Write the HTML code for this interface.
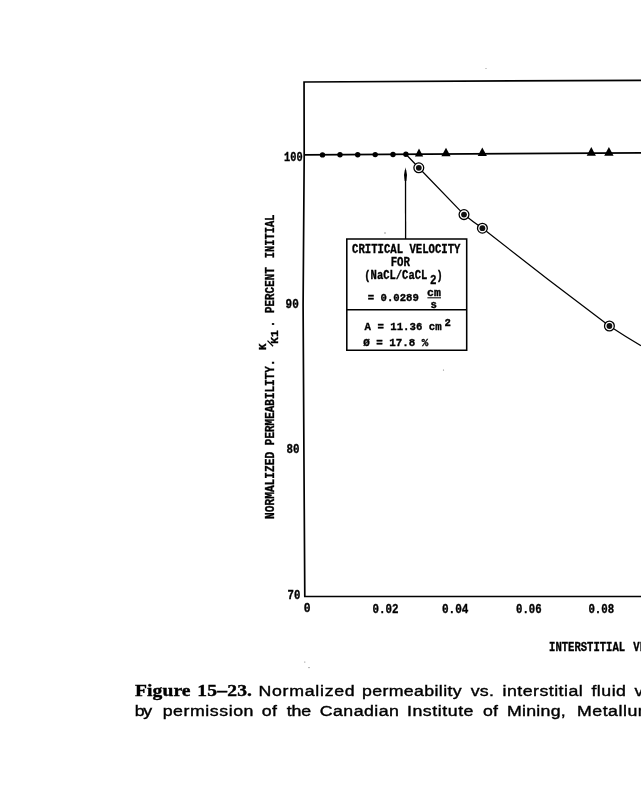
<!DOCTYPE html>
<html>
<head>
<meta charset="utf-8">
<title>Figure 15-23</title>
<style>
html,body{margin:0;padding:0;background:#fff;}
body{width:641px;height:800px;overflow:hidden;position:relative;}
svg{position:absolute;left:0;top:0;display:block;transform:translateZ(0);}
.m{font-family:"Liberation Mono",monospace;font-weight:bold;font-size:12.3px;fill:#000;stroke:#000;stroke-width:0.35px;}
.cs{font-family:"Liberation Sans",sans-serif;font-size:14.8px;}
.cb{font-family:"Liberation Serif",serif;font-weight:bold;font-size:16.3px;}
</style>
</head>
<body>
<svg width="641" height="800" viewBox="0 0 641 800">
  <g fill="none" stroke="#000" stroke-width="1.55">
    <!-- frame -->
    <path d="M304.8 596.4 L303.9 450 L303.1 305 L304.2 155 L304.05 82 L641 80.3" stroke-width="1.7"/>
    <path d="M304 596.4 L641 596.4"/>
    <!-- 100% line -->
    <path d="M304.2 154.9 L641 152.9" stroke-width="1.7"/>
    <!-- curve -->
    <path stroke-width="1.25" d="M405.9 154.3 L418.8 167.8 L464 214.6 Q473 222 482.5 228.3 L547.8 279.3 L609.4 326 Q626 337 641 345.6"/>
    <!-- arrow -->
    <path d="M405.6 239 L405.5 170" stroke-width="1.3"/>
    <!-- box -->
    <path d="M346.8 239 H466.7 V350.3 H346.8 Z"/>
    <path d="M346.8 309.7 H466.5"/>
  </g>
  <!-- arrow head -->
  <path d="M405.5 167.3 L407 175 L406.3 181 L404.7 181 L404 175 Z" fill="#000"/>
  <!-- dots -->
  <g fill="#000">
    <circle cx="322.5" cy="154.9" r="2.7"/>
    <circle cx="340" cy="154.8" r="2.7"/>
    <circle cx="357.7" cy="154.7" r="2.7"/>
    <circle cx="375.2" cy="154.6" r="2.7"/>
    <circle cx="393" cy="154.5" r="2.7"/>
    <circle cx="405.9" cy="154.3" r="2.7"/>
  </g>
  <!-- triangles -->
  <g fill="#000">
    <path d="M419 148.4 L423.2 156.5 L414.9 156.5 Z"/>
    <path d="M446 147.8 L450.6 156.2 L441.4 156.2 Z"/>
    <path d="M482.3 147.6 L486.9 156 L477.7 156 Z"/>
    <path d="M591.3 147 L595.9 155.8 L586.7 155.8 Z"/>
    <path d="M608.9 147 L613.6 155.8 L604.2 155.8 Z"/>
  </g>
  <!-- circled dots -->
  <g fill="#fff" stroke="#000" stroke-width="1.3">
    <circle cx="418.8" cy="167.8" r="4.9"/>
    <circle cx="464" cy="214.6" r="4.9"/>
    <circle cx="482.4" cy="228.2" r="4.9"/>
    <circle cx="609.4" cy="326" r="4.9"/>
  </g>
  <g fill="#111">
    <circle cx="418.8" cy="167.8" r="2.9"/>
    <circle cx="464" cy="214.6" r="2.9"/>
    <circle cx="482.4" cy="228.2" r="2.9"/>
    <circle cx="609.4" cy="326" r="2.9"/>
  </g>
  <!-- scan specks -->
  <g fill="#777">
    <circle cx="304.8" cy="662" r="0.6"/>
    <circle cx="309" cy="667.6" r="0.7"/>
    <circle cx="385" cy="233" r="0.7"/>
    <circle cx="443.5" cy="370" r="0.6"/>
    <circle cx="486" cy="68.5" r="0.5"/>
  </g>
  <!-- y tick labels -->
  <g class="m">
    <text x="284" y="160.7" textLength="18.6" lengthAdjust="spacingAndGlyphs">100</text>
    <text x="285.6" y="308" textLength="13.2" lengthAdjust="spacingAndGlyphs">90</text>
    <text x="286.6" y="453.2" textLength="13" lengthAdjust="spacingAndGlyphs">80</text>
    <text x="287.6" y="598.9" textLength="12.8" lengthAdjust="spacingAndGlyphs">70</text>
  </g>
  <!-- x tick labels -->
  <g class="m">
    <text x="303.8" y="612" textLength="6.8" lengthAdjust="spacingAndGlyphs">0</text>
    <text x="372.6" y="613" textLength="26" lengthAdjust="spacingAndGlyphs">0.02</text>
    <text x="441.9" y="613" textLength="26.5" lengthAdjust="spacingAndGlyphs">0.04</text>
    <text x="516" y="613" textLength="25.6" lengthAdjust="spacingAndGlyphs">0.06</text>
    <text x="588.4" y="613" textLength="25.8" lengthAdjust="spacingAndGlyphs">0.08</text>
    <text x="549.1" y="651" textLength="76" lengthAdjust="spacingAndGlyphs">INTERSTITIAL</text>
    <text x="633.3" y="651" textLength="57" lengthAdjust="spacingAndGlyphs">VELOCITY.</text>
  </g>
  <!-- y axis label -->
  <g class="m" transform="translate(273.5 518.5) rotate(-90)">
    <text x="-0.4" y="0" textLength="67" lengthAdjust="spacingAndGlyphs">NORMALIZED</text>
    <text x="73.3" y="0" textLength="79" lengthAdjust="spacingAndGlyphs">PERMEABILITY</text>
    <text x="152.6" y="0" textLength="6.5" lengthAdjust="spacingAndGlyphs">.</text>
    <text x="168.4" y="-7.2" textLength="6.4" lengthAdjust="spacingAndGlyphs" style="font-size:10px">K</text>
    <path d="M172.3 -0.4 L177.9 -6" stroke="#000" stroke-width="1.3" fill="none"/>
    <text x="174.7" y="4.3" textLength="13.5" lengthAdjust="spacingAndGlyphs" style="font-size:11.3px">K1</text>
    <text x="191.2" y="0" textLength="6.5" lengthAdjust="spacingAndGlyphs">.</text>
    <text x="205.4" y="0" textLength="46" lengthAdjust="spacingAndGlyphs">PERCENT</text>
    <text x="260.3" y="0" textLength="43.8" lengthAdjust="spacingAndGlyphs">INITIAL</text>
  </g>
  <!-- box text -->
  <g class="m" style="font-size:12.6px">
    <text x="352" y="252.6" textLength="108.5" lengthAdjust="spacingAndGlyphs">CRITICAL VELOCITY</text>
    <text x="390.7" y="266.3" textLength="19.3" lengthAdjust="spacingAndGlyphs">FOR</text>
    <text x="364.3" y="278.8" textLength="63" lengthAdjust="spacingAndGlyphs">(NaCL/CaCL</text>
    <text x="430" y="284.3" textLength="6.5" lengthAdjust="spacingAndGlyphs" style="font-size:12px">2</text>
    <text x="436.6" y="278.8" textLength="6.2" lengthAdjust="spacingAndGlyphs">)</text>
    <text x="367.8" y="301" textLength="51" lengthAdjust="spacingAndGlyphs" style="font-size:11.4px">= 0.0289</text>
    <text x="427" y="295.6" textLength="13.8" lengthAdjust="spacingAndGlyphs" style="font-size:10.6px">cm</text>
    <text x="430.5" y="307.9" textLength="6.4" lengthAdjust="spacingAndGlyphs" style="font-size:10px">s</text>
    <text x="364.6" y="329.6" textLength="77" lengthAdjust="spacingAndGlyphs" style="font-size:11.8px">A = 11.36 cm</text>
    <text x="444.4" y="325.8" textLength="6.4" lengthAdjust="spacingAndGlyphs" style="font-size:11.6px">2</text>
    <text x="363.2" y="345.6" textLength="65.2" lengthAdjust="spacingAndGlyphs" style="font-size:11.2px">&#216; = 17.8 %</text>
  </g>
  <path d="M427.4 297.8 H441" stroke="#111" stroke-width="1.1" fill="none"/>
  <g fill="#000" stroke="#000" stroke-width="0.38">
  <text class="cb" transform="translate(135.00 695.80) scale(1.2 1)" textLength="46.25" lengthAdjust="spacing">Figure</text>
  <text class="cb" transform="translate(197.20 695.80) scale(1.2 1)" textLength="45.67" lengthAdjust="spacing">15&#8211;23.</text>
  <text class="cs" transform="translate(258.50 695.80) scale(1.2 1)" textLength="80.17" lengthAdjust="spacing">Normalized</text>
  <text class="cs" transform="translate(362.00 695.80) scale(1.2 1)" textLength="83.00" lengthAdjust="spacing">permeability</text>
  <text class="cs" transform="translate(470.70 695.80) scale(1.2 1)" textLength="19.42" lengthAdjust="spacing">vs.</text>
  <text class="cs" transform="translate(502.50 695.80) scale(1.2 1)" textLength="66.83" lengthAdjust="spacing">interstitial</text>
  <text class="cs" transform="translate(591.40 695.80) scale(1.2 1)" textLength="28.83" lengthAdjust="spacing">fluid</text>
  <text class="cs" transform="translate(634.4 695.8) scale(1.2 1)" textLength="55.00" lengthAdjust="spacing">velocity</text>
  <text class="cs" transform="translate(134.80 716.30) scale(1.2 1)" textLength="14.50" lengthAdjust="spacing">by</text>
  <text class="cs" transform="translate(162.70 716.30) scale(1.2 1)" textLength="75.67" lengthAdjust="spacing">permission</text>
  <text class="cs" transform="translate(261.80 716.30) scale(1.2 1)" textLength="12.67" lengthAdjust="spacing">of</text>
  <text class="cs" transform="translate(286.80 716.30) scale(1.2 1)" textLength="20.33" lengthAdjust="spacing">the</text>
  <text class="cs" transform="translate(319.70 716.30) scale(1.2 1)" textLength="66.08" lengthAdjust="spacing">Canadian</text>
  <text class="cs" transform="translate(407.00 716.30) scale(1.2 1)" textLength="55.42" lengthAdjust="spacing">Institute</text>
  <text class="cs" transform="translate(483.00 716.30) scale(1.2 1)" textLength="12.50" lengthAdjust="spacing">of</text>
  <text class="cs" transform="translate(507.00 716.30) scale(1.2 1)" textLength="48.92" lengthAdjust="spacing">Mining,</text>
  <text class="cs" transform="translate(577 716.3) scale(1.2 1)" textLength="72.08" lengthAdjust="spacing">Metallurgy</text>
  </g>
</svg>
</body>
</html>
